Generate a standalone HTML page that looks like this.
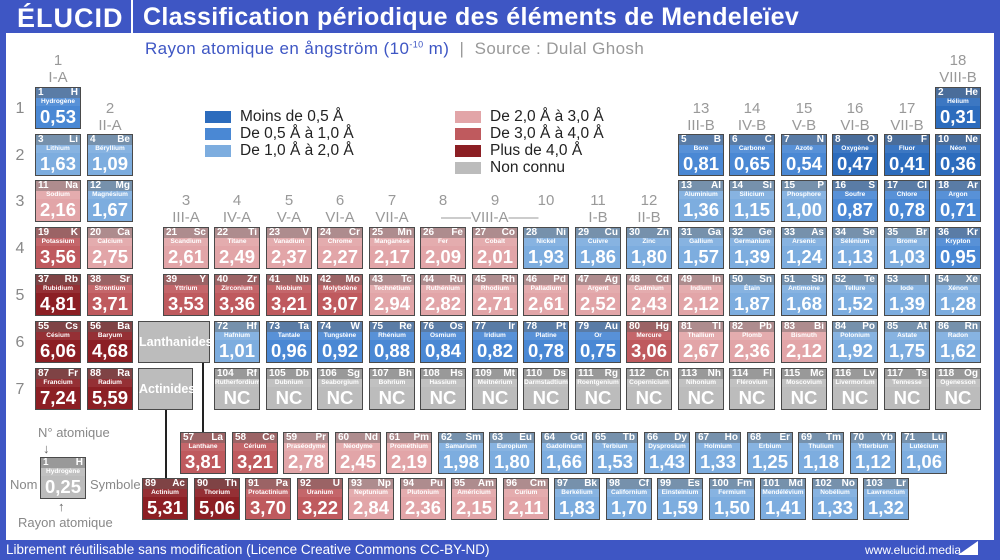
<!DOCTYPE html>
<html><head><meta charset="utf-8"><style>
body{margin:0;width:1000px;height:560px;position:relative;background:#3e56c4;font-family:"Liberation Sans",sans-serif;overflow:hidden}
.main{position:absolute;left:6px;top:33px;width:988px;height:507px;background:#fff}
.t{position:absolute;white-space:nowrap}
.c{position:absolute;width:44px;height:40px;border:1.5px solid #4a4a4a;color:#fff;overflow:hidden}
.c .h{position:absolute;left:0;top:0;width:44px;height:10px;background:rgba(110,110,110,.45)}
.c .n{position:absolute;left:2px;top:-1px;font-size:10px;font-weight:bold;line-height:11px}
.c .y{position:absolute;right:2px;top:-1px;font-size:10px;font-weight:bold;line-height:11px}
.c .m{position:absolute;left:0;width:44px;top:10px;font-size:6.5px;font-weight:bold;text-align:center;line-height:8px;background:rgba(255,255,255,.08)}
.c .v{position:absolute;left:0;width:44px;top:18px;font-size:18.5px;font-weight:bold;text-align:center;line-height:22px}
.db{background:#2c6cbd}.mb{background:#4a88d4}.lb{background:#7daddf}
.lp{background:#e2a5a8}.mr{background:#bf5a5e}.dr{background:#8c1f24}.gy{background:#bcbcbc}
.g{position:absolute;color:#999;font-size:15px;text-align:center;width:52px;line-height:17px}
.p{position:absolute;left:10px;width:20px;color:#888;font-size:16px;text-align:center}
.lg{position:absolute;width:26px;height:12px}
.lt{position:absolute;font-size:15.5px;color:#222;line-height:17px}
.box{position:absolute;background:#bcbcbc;border:1.5px solid #4a4a4a;color:#fff;font-weight:bold;font-size:12.5px;text-align:center}
.ln{position:absolute;background:#222;width:2px}
</style></head><body>
<div class="main"></div>
<div class="t" style="left:17px;top:3px;font-size:27px;font-weight:bold;color:#fff;letter-spacing:1px">ÉLUCID</div>
<div style="position:absolute;left:131px;top:0;width:2px;height:33px;background:#fff"></div>
<div class="t" style="left:143px;top:3px;font-size:25px;font-weight:bold;color:#fff;letter-spacing:0.3px">Classification périodique des éléments de Mendeleïev</div>
<div class="t" style="left:145px;top:39px;font-size:17px;color:#3e56c4;letter-spacing:0.4px">Rayon atomique en ångström (10<sup style="font-size:9px">-10</sup> m) <span style="color:#999">&nbsp;|&nbsp; Source : Dulal Ghosh</span></div>
<div class="t" style="left:6px;top:542px;font-size:13.5px;color:#fff">Librement réutilisable sans modification (Licence Creative Commons CC-BY-ND)</div>
<div class="t" style="left:865px;top:543px;font-size:12px;color:#fff">www.elucid.media</div>
<div style="position:absolute;left:958px;top:541px;width:0;height:0;border-left:20px solid transparent;border-bottom:14px solid #fff"></div>

<div class="g" style="left:32px;top:52px">1<br>I-A</div>
<div class="g" style="left:84px;top:100px">2<br>II-A</div>
<div class="g" style="left:160px;top:192px">3<br>III-A</div>
<div class="g" style="left:211px;top:192px">4<br>IV-A</div>
<div class="g" style="left:263px;top:192px">5<br>V-A</div>
<div class="g" style="left:314px;top:192px">6<br>VI-A</div>
<div class="g" style="left:366px;top:192px">7<br>VII-A</div>
<div class="g" style="left:417px;top:192px">8</div>
<div class="g" style="left:469px;top:192px">9</div>
<div class="g" style="left:520px;top:192px">10</div>
<div class="t" style="left:441px;top:209px;font-size:15px;color:#999">——VIII-A——</div>
<div class="g" style="left:572px;top:192px">11<br>I-B</div>
<div class="g" style="left:623px;top:192px">12<br>II-B</div>
<div class="g" style="left:675px;top:100px">13<br>III-B</div>
<div class="g" style="left:726px;top:100px">14<br>IV-B</div>
<div class="g" style="left:778px;top:100px">15<br>V-B</div>
<div class="g" style="left:829px;top:100px">16<br>VI-B</div>
<div class="g" style="left:881px;top:100px">17<br>VII-B</div>
<div class="g" style="left:932px;top:52px">18<br>VIII-B</div>
<div class="p" style="top:100px">1</div><div class="p" style="top:147px">2</div><div class="p" style="top:193px">3</div><div class="p" style="top:240px">4</div><div class="p" style="top:287px">5</div><div class="p" style="top:334px">6</div><div class="p" style="top:381px">7</div>

<div class="lg db" style="left:205px;top:111px"></div><div class="lt" style="left:240px;top:108px">Moins de 0,5 Å</div>
<div class="lg mb" style="left:205px;top:128px"></div><div class="lt" style="left:240px;top:125px">De 0,5 Å à 1,0 Å</div>
<div class="lg lb" style="left:205px;top:145px"></div><div class="lt" style="left:240px;top:142px">De 1,0 Å à 2,0 Å</div>
<div class="lg lp" style="left:455px;top:111px"></div><div class="lt" style="left:490px;top:108px">De 2,0 Å à 3,0 Å</div>
<div class="lg mr" style="left:455px;top:128px"></div><div class="lt" style="left:490px;top:125px">De 3,0 Å à 4,0 Å</div>
<div class="lg dr" style="left:455px;top:145px"></div><div class="lt" style="left:490px;top:142px">Plus de 4,0 Å</div>
<div class="lg gy" style="left:455px;top:162px"></div><div class="lt" style="left:490px;top:159px">Non connu</div>

<div class="box" style="left:138px;top:321px;width:70px;height:40px;line-height:40px">Lanthanides</div>
<div class="box" style="left:138px;top:368px;width:53px;height:40px;line-height:40px">Actinides</div>
<div class="ln" style="left:202px;top:363px;height:69px"></div>
<div class="ln" style="left:165px;top:410px;height:68px"></div>

<div class="t" style="left:38px;top:425px;font-size:13px;color:#888">N° atomique</div>
<div class="t" style="left:43px;top:441px;font-size:13px;color:#666">↓</div>
<div class="c gy" style="left:40px;top:457px"><div class="h"></div><span class="n">1</span><span class="y">H</span><span class="m">Hydrogène</span><span class="v">0,25</span></div>
<div class="t" style="left:10px;top:477px;font-size:13px;color:#888">Nom</div>
<div class="t" style="left:90px;top:477px;font-size:13px;color:#888">Symbole</div>
<div class="t" style="left:18px;top:515px;font-size:13px;color:#888">Rayon atomique</div>
<div class="t" style="left:58px;top:499px;font-size:13px;color:#666">↑</div>

<div class="c mb" style="left:35px;top:87px"><div class="h"></div><span class="n">1</span><span class="y">H</span><span class="m">Hydrogène</span><span class="v">0,53</span></div>
<div class="c db" style="left:935px;top:87px"><div class="h"></div><span class="n">2</span><span class="y">He</span><span class="m">Hélium</span><span class="v">0,31</span></div>
<div class="c lb" style="left:35px;top:134px"><div class="h"></div><span class="n">3</span><span class="y">Li</span><span class="m">Lithium</span><span class="v">1,63</span></div>
<div class="c lb" style="left:87px;top:134px"><div class="h"></div><span class="n">4</span><span class="y">Be</span><span class="m">Béryllium</span><span class="v">1,09</span></div>
<div class="c mb" style="left:678px;top:134px"><div class="h"></div><span class="n">5</span><span class="y">B</span><span class="m">Bore</span><span class="v">0,81</span></div>
<div class="c mb" style="left:729px;top:134px"><div class="h"></div><span class="n">6</span><span class="y">C</span><span class="m">Carbone</span><span class="v">0,65</span></div>
<div class="c mb" style="left:781px;top:134px"><div class="h"></div><span class="n">7</span><span class="y">N</span><span class="m">Azote</span><span class="v">0,54</span></div>
<div class="c db" style="left:832px;top:134px"><div class="h"></div><span class="n">8</span><span class="y">O</span><span class="m">Oxygène</span><span class="v">0,47</span></div>
<div class="c db" style="left:884px;top:134px"><div class="h"></div><span class="n">9</span><span class="y">F</span><span class="m">Fluor</span><span class="v">0,41</span></div>
<div class="c db" style="left:935px;top:134px"><div class="h"></div><span class="n">10</span><span class="y">Ne</span><span class="m">Néon</span><span class="v">0,36</span></div>
<div class="c lp" style="left:35px;top:180px"><div class="h"></div><span class="n">11</span><span class="y">Na</span><span class="m">Sodium</span><span class="v">2,16</span></div>
<div class="c lb" style="left:87px;top:180px"><div class="h"></div><span class="n">12</span><span class="y">Mg</span><span class="m">Magnésium</span><span class="v">1,67</span></div>
<div class="c lb" style="left:678px;top:180px"><div class="h"></div><span class="n">13</span><span class="y">Al</span><span class="m">Aluminium</span><span class="v">1,36</span></div>
<div class="c lb" style="left:729px;top:180px"><div class="h"></div><span class="n">14</span><span class="y">Si</span><span class="m">Silicium</span><span class="v">1,15</span></div>
<div class="c lb" style="left:781px;top:180px"><div class="h"></div><span class="n">15</span><span class="y">P</span><span class="m">Phosphore</span><span class="v">1,00</span></div>
<div class="c mb" style="left:832px;top:180px"><div class="h"></div><span class="n">16</span><span class="y">S</span><span class="m">Soufre</span><span class="v">0,87</span></div>
<div class="c mb" style="left:884px;top:180px"><div class="h"></div><span class="n">17</span><span class="y">Cl</span><span class="m">Chlore</span><span class="v">0,78</span></div>
<div class="c mb" style="left:935px;top:180px"><div class="h"></div><span class="n">18</span><span class="y">Ar</span><span class="m">Argon</span><span class="v">0,71</span></div>
<div class="c mr" style="left:35px;top:227px"><div class="h"></div><span class="n">19</span><span class="y">K</span><span class="m">Potassium</span><span class="v">3,56</span></div>
<div class="c lp" style="left:87px;top:227px"><div class="h"></div><span class="n">20</span><span class="y">Ca</span><span class="m">Calcium</span><span class="v">2,75</span></div>
<div class="c lp" style="left:163px;top:227px"><div class="h"></div><span class="n">21</span><span class="y">Sc</span><span class="m">Scandium</span><span class="v">2,61</span></div>
<div class="c lp" style="left:214px;top:227px"><div class="h"></div><span class="n">22</span><span class="y">Ti</span><span class="m">Titane</span><span class="v">2,49</span></div>
<div class="c lp" style="left:266px;top:227px"><div class="h"></div><span class="n">23</span><span class="y">V</span><span class="m">Vanadium</span><span class="v">2,37</span></div>
<div class="c lp" style="left:317px;top:227px"><div class="h"></div><span class="n">24</span><span class="y">Cr</span><span class="m">Chrome</span><span class="v">2,27</span></div>
<div class="c lp" style="left:369px;top:227px"><div class="h"></div><span class="n">25</span><span class="y">Mn</span><span class="m">Manganèse</span><span class="v">2,17</span></div>
<div class="c lp" style="left:420px;top:227px"><div class="h"></div><span class="n">26</span><span class="y">Fe</span><span class="m">Fer</span><span class="v">2,09</span></div>
<div class="c lp" style="left:472px;top:227px"><div class="h"></div><span class="n">27</span><span class="y">Co</span><span class="m">Cobalt</span><span class="v">2,01</span></div>
<div class="c lb" style="left:523px;top:227px"><div class="h"></div><span class="n">28</span><span class="y">Ni</span><span class="m">Nickel</span><span class="v">1,93</span></div>
<div class="c lb" style="left:575px;top:227px"><div class="h"></div><span class="n">29</span><span class="y">Cu</span><span class="m">Cuivre</span><span class="v">1,86</span></div>
<div class="c lb" style="left:626px;top:227px"><div class="h"></div><span class="n">30</span><span class="y">Zn</span><span class="m">Zinc</span><span class="v">1,80</span></div>
<div class="c lb" style="left:678px;top:227px"><div class="h"></div><span class="n">31</span><span class="y">Ga</span><span class="m">Gallium</span><span class="v">1,57</span></div>
<div class="c lb" style="left:729px;top:227px"><div class="h"></div><span class="n">32</span><span class="y">Ge</span><span class="m">Germanium</span><span class="v">1,39</span></div>
<div class="c lb" style="left:781px;top:227px"><div class="h"></div><span class="n">33</span><span class="y">As</span><span class="m">Arsenic</span><span class="v">1,24</span></div>
<div class="c lb" style="left:832px;top:227px"><div class="h"></div><span class="n">34</span><span class="y">Se</span><span class="m">Sélénium</span><span class="v">1,13</span></div>
<div class="c lb" style="left:884px;top:227px"><div class="h"></div><span class="n">35</span><span class="y">Br</span><span class="m">Brome</span><span class="v">1,03</span></div>
<div class="c mb" style="left:935px;top:227px"><div class="h"></div><span class="n">36</span><span class="y">Kr</span><span class="m">Krypton</span><span class="v">0,95</span></div>
<div class="c dr" style="left:35px;top:274px"><div class="h"></div><span class="n">37</span><span class="y">Rb</span><span class="m">Rubidium</span><span class="v">4,81</span></div>
<div class="c mr" style="left:87px;top:274px"><div class="h"></div><span class="n">38</span><span class="y">Sr</span><span class="m">Strontium</span><span class="v">3,71</span></div>
<div class="c mr" style="left:163px;top:274px"><div class="h"></div><span class="n">39</span><span class="y">Y</span><span class="m">Yttrium</span><span class="v">3,53</span></div>
<div class="c mr" style="left:214px;top:274px"><div class="h"></div><span class="n">40</span><span class="y">Zr</span><span class="m">Zirconium</span><span class="v">3,36</span></div>
<div class="c mr" style="left:266px;top:274px"><div class="h"></div><span class="n">41</span><span class="y">Nb</span><span class="m">Niobium</span><span class="v">3,21</span></div>
<div class="c mr" style="left:317px;top:274px"><div class="h"></div><span class="n">42</span><span class="y">Mo</span><span class="m">Molybdène</span><span class="v">3,07</span></div>
<div class="c lp" style="left:369px;top:274px"><div class="h"></div><span class="n">43</span><span class="y">Tc</span><span class="m">Technétium</span><span class="v">2,94</span></div>
<div class="c lp" style="left:420px;top:274px"><div class="h"></div><span class="n">44</span><span class="y">Ru</span><span class="m">Ruthénium</span><span class="v">2,82</span></div>
<div class="c lp" style="left:472px;top:274px"><div class="h"></div><span class="n">45</span><span class="y">Rh</span><span class="m">Rhodium</span><span class="v">2,71</span></div>
<div class="c lp" style="left:523px;top:274px"><div class="h"></div><span class="n">46</span><span class="y">Pd</span><span class="m">Palladium</span><span class="v">2,61</span></div>
<div class="c lp" style="left:575px;top:274px"><div class="h"></div><span class="n">47</span><span class="y">Ag</span><span class="m">Argent</span><span class="v">2,52</span></div>
<div class="c lp" style="left:626px;top:274px"><div class="h"></div><span class="n">48</span><span class="y">Cd</span><span class="m">Cadmium</span><span class="v">2,43</span></div>
<div class="c lp" style="left:678px;top:274px"><div class="h"></div><span class="n">49</span><span class="y">In</span><span class="m">Indium</span><span class="v">2,12</span></div>
<div class="c lb" style="left:729px;top:274px"><div class="h"></div><span class="n">50</span><span class="y">Sn</span><span class="m">Étain</span><span class="v">1,87</span></div>
<div class="c lb" style="left:781px;top:274px"><div class="h"></div><span class="n">51</span><span class="y">Sb</span><span class="m">Antimoine</span><span class="v">1,68</span></div>
<div class="c lb" style="left:832px;top:274px"><div class="h"></div><span class="n">52</span><span class="y">Te</span><span class="m">Tellure</span><span class="v">1,52</span></div>
<div class="c lb" style="left:884px;top:274px"><div class="h"></div><span class="n">53</span><span class="y">I</span><span class="m">Iode</span><span class="v">1,39</span></div>
<div class="c lb" style="left:935px;top:274px"><div class="h"></div><span class="n">54</span><span class="y">Xe</span><span class="m">Xénon</span><span class="v">1,28</span></div>
<div class="c dr" style="left:35px;top:321px"><div class="h"></div><span class="n">55</span><span class="y">Cs</span><span class="m">Césium</span><span class="v">6,06</span></div>
<div class="c dr" style="left:87px;top:321px"><div class="h"></div><span class="n">56</span><span class="y">Ba</span><span class="m">Baryum</span><span class="v">4,68</span></div>
<div class="c lb" style="left:214px;top:321px"><div class="h"></div><span class="n">72</span><span class="y">Hf</span><span class="m">Hafnium</span><span class="v">1,01</span></div>
<div class="c mb" style="left:266px;top:321px"><div class="h"></div><span class="n">73</span><span class="y">Ta</span><span class="m">Tantale</span><span class="v">0,96</span></div>
<div class="c mb" style="left:317px;top:321px"><div class="h"></div><span class="n">74</span><span class="y">W</span><span class="m">Tungstène</span><span class="v">0,92</span></div>
<div class="c mb" style="left:369px;top:321px"><div class="h"></div><span class="n">75</span><span class="y">Re</span><span class="m">Rhénium</span><span class="v">0,88</span></div>
<div class="c mb" style="left:420px;top:321px"><div class="h"></div><span class="n">76</span><span class="y">Os</span><span class="m">Osmium</span><span class="v">0,84</span></div>
<div class="c mb" style="left:472px;top:321px"><div class="h"></div><span class="n">77</span><span class="y">Ir</span><span class="m">Iridium</span><span class="v">0,82</span></div>
<div class="c mb" style="left:523px;top:321px"><div class="h"></div><span class="n">78</span><span class="y">Pt</span><span class="m">Platine</span><span class="v">0,78</span></div>
<div class="c mb" style="left:575px;top:321px"><div class="h"></div><span class="n">79</span><span class="y">Au</span><span class="m">Or</span><span class="v">0,75</span></div>
<div class="c mr" style="left:626px;top:321px"><div class="h"></div><span class="n">80</span><span class="y">Hg</span><span class="m">Mercure</span><span class="v">3,06</span></div>
<div class="c lp" style="left:678px;top:321px"><div class="h"></div><span class="n">81</span><span class="y">Tl</span><span class="m">Thallium</span><span class="v">2,67</span></div>
<div class="c lp" style="left:729px;top:321px"><div class="h"></div><span class="n">82</span><span class="y">Pb</span><span class="m">Plomb</span><span class="v">2,36</span></div>
<div class="c lp" style="left:781px;top:321px"><div class="h"></div><span class="n">83</span><span class="y">Bi</span><span class="m">Bismuth</span><span class="v">2,12</span></div>
<div class="c lb" style="left:832px;top:321px"><div class="h"></div><span class="n">84</span><span class="y">Po</span><span class="m">Polonium</span><span class="v">1,92</span></div>
<div class="c lb" style="left:884px;top:321px"><div class="h"></div><span class="n">85</span><span class="y">At</span><span class="m">Astate</span><span class="v">1,75</span></div>
<div class="c lb" style="left:935px;top:321px"><div class="h"></div><span class="n">86</span><span class="y">Rn</span><span class="m">Radon</span><span class="v">1,62</span></div>
<div class="c dr" style="left:35px;top:368px"><div class="h"></div><span class="n">87</span><span class="y">Fr</span><span class="m">Francium</span><span class="v">7,24</span></div>
<div class="c dr" style="left:87px;top:368px"><div class="h"></div><span class="n">88</span><span class="y">Ra</span><span class="m">Radium</span><span class="v">5,59</span></div>
<div class="c gy" style="left:214px;top:368px"><div class="h"></div><span class="n">104</span><span class="y">Rf</span><span class="m">Rutherfordium</span><span class="v">NC</span></div>
<div class="c gy" style="left:266px;top:368px"><div class="h"></div><span class="n">105</span><span class="y">Db</span><span class="m">Dubnium</span><span class="v">NC</span></div>
<div class="c gy" style="left:317px;top:368px"><div class="h"></div><span class="n">106</span><span class="y">Sg</span><span class="m">Seaborgium</span><span class="v">NC</span></div>
<div class="c gy" style="left:369px;top:368px"><div class="h"></div><span class="n">107</span><span class="y">Bh</span><span class="m">Bohrium</span><span class="v">NC</span></div>
<div class="c gy" style="left:420px;top:368px"><div class="h"></div><span class="n">108</span><span class="y">Hs</span><span class="m">Hassium</span><span class="v">NC</span></div>
<div class="c gy" style="left:472px;top:368px"><div class="h"></div><span class="n">109</span><span class="y">Mt</span><span class="m">Meitnérium</span><span class="v">NC</span></div>
<div class="c gy" style="left:523px;top:368px"><div class="h"></div><span class="n">110</span><span class="y">Ds</span><span class="m">Darmstadtium</span><span class="v">NC</span></div>
<div class="c gy" style="left:575px;top:368px"><div class="h"></div><span class="n">111</span><span class="y">Rg</span><span class="m">Roentgenium</span><span class="v">NC</span></div>
<div class="c gy" style="left:626px;top:368px"><div class="h"></div><span class="n">112</span><span class="y">Cn</span><span class="m">Copernicium</span><span class="v">NC</span></div>
<div class="c gy" style="left:678px;top:368px"><div class="h"></div><span class="n">113</span><span class="y">Nh</span><span class="m">Nihonium</span><span class="v">NC</span></div>
<div class="c gy" style="left:729px;top:368px"><div class="h"></div><span class="n">114</span><span class="y">Fl</span><span class="m">Flérovium</span><span class="v">NC</span></div>
<div class="c gy" style="left:781px;top:368px"><div class="h"></div><span class="n">115</span><span class="y">Mc</span><span class="m">Moscovium</span><span class="v">NC</span></div>
<div class="c gy" style="left:832px;top:368px"><div class="h"></div><span class="n">116</span><span class="y">Lv</span><span class="m">Livermorium</span><span class="v">NC</span></div>
<div class="c gy" style="left:884px;top:368px"><div class="h"></div><span class="n">117</span><span class="y">Ts</span><span class="m">Tennesse</span><span class="v">NC</span></div>
<div class="c gy" style="left:935px;top:368px"><div class="h"></div><span class="n">118</span><span class="y">Og</span><span class="m">Ogenesson</span><span class="v">NC</span></div>
<div class="c mr" style="left:180px;top:432px"><div class="h"></div><span class="n">57</span><span class="y">La</span><span class="m">Lanthane</span><span class="v">3,81</span></div>
<div class="c mr" style="left:232px;top:432px"><div class="h"></div><span class="n">58</span><span class="y">Ce</span><span class="m">Cérium</span><span class="v">3,21</span></div>
<div class="c lp" style="left:283px;top:432px"><div class="h"></div><span class="n">59</span><span class="y">Pr</span><span class="m">Praséodyme</span><span class="v">2,78</span></div>
<div class="c lp" style="left:335px;top:432px"><div class="h"></div><span class="n">60</span><span class="y">Nd</span><span class="m">Néodyme</span><span class="v">2,45</span></div>
<div class="c lp" style="left:386px;top:432px"><div class="h"></div><span class="n">61</span><span class="y">Pm</span><span class="m">Prométhium</span><span class="v">2,19</span></div>
<div class="c lb" style="left:438px;top:432px"><div class="h"></div><span class="n">62</span><span class="y">Sm</span><span class="m">Samarium</span><span class="v">1,98</span></div>
<div class="c lb" style="left:489px;top:432px"><div class="h"></div><span class="n">63</span><span class="y">Eu</span><span class="m">Europium</span><span class="v">1,80</span></div>
<div class="c lb" style="left:541px;top:432px"><div class="h"></div><span class="n">64</span><span class="y">Gd</span><span class="m">Gadolinium</span><span class="v">1,66</span></div>
<div class="c lb" style="left:592px;top:432px"><div class="h"></div><span class="n">65</span><span class="y">Tb</span><span class="m">Terbium</span><span class="v">1,53</span></div>
<div class="c lb" style="left:644px;top:432px"><div class="h"></div><span class="n">66</span><span class="y">Dy</span><span class="m">Dysprosium</span><span class="v">1,43</span></div>
<div class="c lb" style="left:695px;top:432px"><div class="h"></div><span class="n">67</span><span class="y">Ho</span><span class="m">Holmium</span><span class="v">1,33</span></div>
<div class="c lb" style="left:747px;top:432px"><div class="h"></div><span class="n">68</span><span class="y">Er</span><span class="m">Erbium</span><span class="v">1,25</span></div>
<div class="c lb" style="left:798px;top:432px"><div class="h"></div><span class="n">69</span><span class="y">Tm</span><span class="m">Thulium</span><span class="v">1,18</span></div>
<div class="c lb" style="left:850px;top:432px"><div class="h"></div><span class="n">70</span><span class="y">Yb</span><span class="m">Ytterbium</span><span class="v">1,12</span></div>
<div class="c lb" style="left:901px;top:432px"><div class="h"></div><span class="n">71</span><span class="y">Lu</span><span class="m">Lutécium</span><span class="v">1,06</span></div>
<div class="c dr" style="left:142px;top:478px"><div class="h"></div><span class="n">89</span><span class="y">Ac</span><span class="m">Actinium</span><span class="v">5,31</span></div>
<div class="c dr" style="left:194px;top:478px"><div class="h"></div><span class="n">90</span><span class="y">Th</span><span class="m">Thorium</span><span class="v">5,06</span></div>
<div class="c mr" style="left:245px;top:478px"><div class="h"></div><span class="n">91</span><span class="y">Pa</span><span class="m">Protactinium</span><span class="v">3,70</span></div>
<div class="c mr" style="left:297px;top:478px"><div class="h"></div><span class="n">92</span><span class="y">U</span><span class="m">Uranium</span><span class="v">3,22</span></div>
<div class="c lp" style="left:348px;top:478px"><div class="h"></div><span class="n">93</span><span class="y">Np</span><span class="m">Neptunium</span><span class="v">2,84</span></div>
<div class="c lp" style="left:400px;top:478px"><div class="h"></div><span class="n">94</span><span class="y">Pu</span><span class="m">Plutonium</span><span class="v">2,36</span></div>
<div class="c lp" style="left:451px;top:478px"><div class="h"></div><span class="n">95</span><span class="y">Am</span><span class="m">Américium</span><span class="v">2,15</span></div>
<div class="c lp" style="left:503px;top:478px"><div class="h"></div><span class="n">96</span><span class="y">Cm</span><span class="m">Curium</span><span class="v">2,11</span></div>
<div class="c lb" style="left:554px;top:478px"><div class="h"></div><span class="n">97</span><span class="y">Bk</span><span class="m">Berkélium</span><span class="v">1,83</span></div>
<div class="c lb" style="left:606px;top:478px"><div class="h"></div><span class="n">98</span><span class="y">Cf</span><span class="m">Californium</span><span class="v">1,70</span></div>
<div class="c lb" style="left:657px;top:478px"><div class="h"></div><span class="n">99</span><span class="y">Es</span><span class="m">Einsteinium</span><span class="v">1,59</span></div>
<div class="c lb" style="left:709px;top:478px"><div class="h"></div><span class="n">100</span><span class="y">Fm</span><span class="m">Fermium</span><span class="v">1,50</span></div>
<div class="c lb" style="left:760px;top:478px"><div class="h"></div><span class="n">101</span><span class="y">Md</span><span class="m">Mendélévium</span><span class="v">1,41</span></div>
<div class="c lb" style="left:812px;top:478px"><div class="h"></div><span class="n">102</span><span class="y">No</span><span class="m">Nobélium</span><span class="v">1,33</span></div>
<div class="c lb" style="left:863px;top:478px"><div class="h"></div><span class="n">103</span><span class="y">Lr</span><span class="m">Lawrencium</span><span class="v">1,32</span></div>
</body></html>
